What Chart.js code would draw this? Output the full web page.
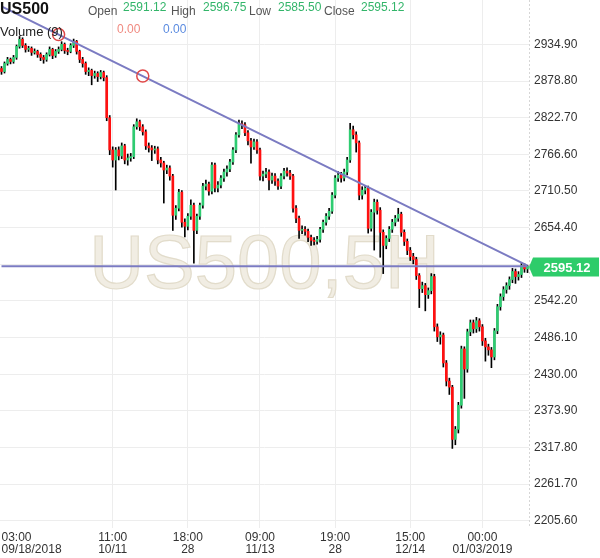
<!DOCTYPE html>
<html>
<head>
<meta charset="utf-8">
<title>US500, 5H</title>
<script src="https://cdn.jsdelivr.net/npm/chart.js@4.4.1/dist/chart.umd.min.js"></script>
<style>
    html, body { margin: 0; padding: 0; background: #fff; }
    #wrap { position: relative; width: 600px; height: 558px; font-family: "Liberation Sans", Arial, sans-serif; }
    #chart { position: absolute; left: 0; top: 0; }
    .hd { position: absolute; white-space: nowrap; font-size: 12px; line-height: 12px; }
    .lbl { color: #555; top: 5px; }
    .val { color: #33b56a; top: 1px; }
</style>
</head>
<body>
<div id="wrap">
    <canvas id="chart" width="600" height="558"></canvas>
    <div class="hd" style="left:0;top:1px;font-size:16px;line-height:16px;font-weight:bold;color:#111;">US500</div>
    <div class="hd lbl" style="left:88px;">Open</div>
    <div class="hd val" style="left:123px;">2591.12</div>
    <div class="hd lbl" style="left:171px;">High</div>
    <div class="hd val" style="left:203px;">2596.75</div>
    <div class="hd lbl" style="left:249px;">Low</div>
    <div class="hd val" style="left:278px;">2585.50</div>
    <div class="hd lbl" style="left:324px;">Close</div>
    <div class="hd val" style="left:361px;">2595.12</div>
    <div class="hd" style="left:0;top:25px;font-size:13px;line-height:13px;color:#222;">Volume (9)</div>
    <div class="hd" style="left:117px;top:23px;color:#f08a80;">0.00</div>
    <div class="hd" style="left:163px;top:23px;color:#5b8be0;">0.00</div>
</div>
<script>
// 5H candles, US500
const opens = [
    2898.0, 2893.3, 2905.6, 2911.8, 2908.7, 2914.9, 2931.8, 2942.6, 2933.3, 2927.2, 2928.7, 2922.6, 2924.1, 2919.5, 2914.9, 2911.8,
    2919.5, 2927.2, 2917.9, 2924.1, 2927.2, 2934.9, 2925.6, 2924.1, 2933.3, 2939.5, 2924.1, 2911.8, 2905.6, 2893.3, 2895.0, 2887.2,
    2890.3, 2885.6, 2891.8, 2884.1, 2822.6, 2773.3, 2757.9, 2773.3, 2764.1, 2779.5, 2757.9, 2761.0, 2763.0, 2808.7, 2816.4, 2808.7,
    2801.0, 2779.5, 2776.4, 2773.3, 2774.9, 2757.9, 2753.3, 2742.6, 2745.6, 2733.3, 2673.3, 2684.1, 2708.7, 2662.6, 2656.4, 2671.8,
    2688.7, 2650.2, 2671.8, 2688.7, 2717.9, 2721.0, 2710.2, 2750.2, 2714.9, 2719.5, 2730.2, 2739.5, 2744.1, 2754.9, 2773.3, 2796.4,
    2813.3, 2811.8, 2799.5, 2787.2, 2777.9, 2785.6, 2773.3, 2733.3, 2736.4, 2739.5, 2727.2, 2733.3, 2725.6, 2717.9, 2733.3, 2741.0,
    2737.9, 2733.3, 2684.1, 2668.7, 2650.2, 2651.8, 2648.7, 2639.5, 2634.9, 2633.3, 2636.4, 2651.8, 2662.6, 2671.8, 2679.5, 2704.1,
    2730.2, 2734.9, 2730.2, 2739.5, 2757.9, 2804.1, 2796.4, 2784.1, 2704.1, 2711.8, 2714.9, 2653.3, 2677.9, 2693.3, 2681.0, 2647.2,
    2627.2, 2637.9, 2651.8, 2662.6, 2668.7, 2674.9, 2647.2, 2633.3, 2619.5, 2610.2, 2605.6, 2581.0, 2561.0, 2565.6, 2551.8, 2557.9,
    2579.5, 2502.5, 2487.2, 2490.0, 2447.2, 2419.5, 2410.2, 2330.2, 2345.6, 2382.5, 2468.7, 2437.9, 2494.9, 2508.7, 2499.5, 2511.8,
    2502.5, 2481.0, 2471.8, 2467.2, 2456.4, 2496.4, 2533.3, 2548.7, 2559.5, 2565.6, 2574.9, 2587.2, 2579.5, 2582.6, 2596.4, 2591.12
];
const highs = [
    2901, 2908, 2915, 2914, 2918, 2934, 2947, 2945, 2936, 2932, 2931, 2928, 2926, 2922, 2918, 2922,
    2931, 2929, 2927, 2931, 2939, 2937, 2929, 2936, 2943, 2941, 2926, 2915, 2908, 2899, 2897, 2894,
    2893, 2895, 2894, 2887, 2826, 2778, 2777, 2778, 2784, 2782, 2767, 2768, 2812, 2821, 2819, 2812,
    2804, 2784, 2780, 2779, 2778, 2762, 2756, 2750, 2749, 2736, 2688, 2713, 2711, 2668, 2676, 2697,
    2692, 2675, 2692, 2722, 2727, 2724, 2754, 2753, 2725, 2734, 2744, 2749, 2759, 2777, 2800, 2819,
    2818, 2815, 2803, 2791, 2790, 2789, 2776, 2741, 2745, 2743, 2738, 2737, 2729, 2737, 2745, 2746,
    2742, 2736, 2688, 2672, 2657, 2656, 2652, 2643, 2639, 2641, 2655, 2666, 2676, 2684, 2708, 2734,
    2740, 2739, 2744, 2762, 2814, 2810, 2801, 2787, 2717, 2719, 2718, 2682, 2698, 2697, 2685, 2651,
    2642, 2656, 2667, 2673, 2684, 2678, 2651, 2637, 2624, 2615, 2609, 2584, 2571, 2569, 2562, 2584,
    2583, 2507, 2495, 2493, 2451, 2424, 2413, 2350, 2387, 2473, 2472, 2499, 2513, 2513, 2517, 2515,
    2506, 2485, 2476, 2471, 2500, 2537, 2553, 2564, 2570, 2579, 2592, 2591, 2587, 2601, 2599, 2596.75
];
const lows = [
    2889, 2891, 2903, 2905, 2906, 2912, 2929, 2930, 2923, 2924, 2918, 2920, 2915, 2910, 2906, 2909,
    2917, 2913, 2915, 2921, 2925, 2921, 2919, 2922, 2930, 2920, 2907, 2900, 2889, 2887, 2873, 2883,
    2878, 2882, 2879, 2818, 2766, 2747, 2712, 2758, 2760, 2752, 2750, 2756, 2760, 2805, 2803, 2796,
    2774, 2770, 2757, 2768, 2752, 2747, 2692, 2737, 2727, 2650, 2667, 2680, 2655, 2640, 2651, 2667,
    2600, 2645, 2667, 2684, 2712, 2704, 2706, 2709, 2709, 2715, 2725, 2733, 2740, 2751, 2769, 2793,
    2806, 2795, 2781, 2753, 2774, 2768, 2727, 2726, 2731, 2712, 2722, 2719, 2713, 2714, 2729, 2733,
    2728, 2678, 2662, 2638, 2645, 2643, 2633, 2627, 2628, 2629, 2632, 2647, 2658, 2667, 2676, 2700,
    2725, 2724, 2726, 2735, 2754, 2790, 2770, 2697, 2698, 2706, 2646, 2649, 2620, 2675, 2609, 2584,
    2622, 2633, 2647, 2657, 2664, 2641, 2627, 2613, 2604, 2599, 2575, 2532, 2555, 2527, 2546, 2553,
    2496, 2480, 2476, 2441, 2412, 2399, 2316.4, 2322, 2340, 2378, 2393, 2433, 2489, 2493, 2494, 2496,
    2474, 2450, 2459, 2440, 2452, 2492, 2528, 2543, 2554, 2560, 2570, 2569, 2574, 2578, 2586, 2585.5
];
const closes = [
    2893.3, 2905.6, 2911.8, 2908.7, 2914.9, 2931.8, 2942.6, 2933.3, 2927.2, 2928.7, 2922.6, 2924.1, 2919.5, 2914.9, 2911.8, 2919.5,
    2927.2, 2917.9, 2924.1, 2927.2, 2934.9, 2925.6, 2924.1, 2933.3, 2939.5, 2924.1, 2911.8, 2905.6, 2893.3, 2895.0, 2887.2, 2890.3,
    2885.6, 2891.8, 2884.1, 2822.6, 2773.3, 2757.9, 2773.3, 2764.1, 2779.5, 2757.9, 2761.0, 2763.0, 2808.7, 2816.4, 2808.7, 2801.0,
    2779.5, 2776.4, 2773.3, 2774.9, 2757.9, 2753.3, 2742.6, 2745.6, 2733.3, 2673.3, 2684.1, 2708.7, 2662.6, 2656.4, 2671.8, 2688.7,
    2650.2, 2671.8, 2688.7, 2717.9, 2721.0, 2710.2, 2750.2, 2714.9, 2719.5, 2730.2, 2739.5, 2744.1, 2754.9, 2773.3, 2796.4, 2813.3,
    2811.8, 2799.5, 2787.2, 2777.9, 2785.6, 2773.3, 2733.3, 2736.4, 2739.5, 2727.2, 2733.3, 2725.6, 2717.9, 2733.3, 2741.0, 2737.9,
    2733.3, 2684.1, 2668.7, 2650.2, 2651.8, 2648.7, 2639.5, 2634.9, 2633.3, 2636.4, 2651.8, 2662.6, 2671.8, 2679.5, 2704.1, 2730.2,
    2734.9, 2730.2, 2739.5, 2757.9, 2804.1, 2796.4, 2784.1, 2704.1, 2711.8, 2714.9, 2653.3, 2677.9, 2693.3, 2681.0, 2647.2, 2627.2,
    2637.9, 2651.8, 2662.6, 2668.7, 2674.9, 2647.2, 2633.3, 2619.5, 2610.2, 2605.6, 2581.0, 2561.0, 2565.6, 2551.8, 2557.9, 2579.5,
    2502.5, 2487.2, 2490.0, 2447.2, 2419.5, 2410.2, 2330.2, 2345.6, 2382.5, 2468.7, 2437.9, 2494.9, 2508.7, 2499.5, 2511.8, 2502.5,
    2481.0, 2471.8, 2467.2, 2456.4, 2496.4, 2533.3, 2548.7, 2559.5, 2565.6, 2574.9, 2587.2, 2579.5, 2582.6, 2596.4, 2591.12, 2595.12
];

// 趋势线 (candle index -> price), circles on the two anchors
const trendIdx = [0, 19, 47, 175];
const trendVal = [2993.0, 2949.9, 2886.4, 2596.1];
const trendAnchors = [19, 47];
const lastPrice = 2595.12;

// axis
const yTicks = [2205.6, 2261.7, 2317.8, 2373.9, 2430.0, 2486.1, 2542.2, 2598.3, 2654.4, 2710.5, 2766.6, 2822.7, 2878.8, 2934.9];
const yMin = 2194.6;
const yMax = 3002.8;
const xTickIdx = [0, 37, 62, 86, 111, 136, 160, 175];
const xTickText = [
    ['03:00', '09/18/2018'], ['11:00', '10/11'], ['18:00', '28'], ['09:00', '11/13'],
    ['19:00', '28'], ['15:00', '12/14'], ['00:00', '01/03/2019'], ''
];
const watermarkText = 'US500,5H';

const GREEN = '#2ecc71';
const RED = '#ff1010';
const LINE = '#7b7bc2';
const GRID = '#ededed';
const FONT = '"Liberation Sans", Arial, sans-serif';

const trendLine = opens.map(() => null);
trendIdx.forEach((k, j) => { trendLine[k] = trendVal[j]; });
const lastLine = opens.map(() => null);
lastLine[0] = lastPrice;
lastLine[opens.length - 1] = lastPrice;

// 水印
const watermark = {
    id: 'watermark',
    beforeDatasetsDraw(chart) {
        const { ctx, chartArea } = chart;
        ctx.save();
        ctx.font = '76px ' + FONT;
        ctx.textAlign = 'center';
        ctx.textBaseline = 'alphabetic';
        ctx.fillStyle = '#f1ede3';
        ctx.strokeStyle = '#e2dccb';
        ctx.lineWidth = 1.2;
        const x = chartArea.left + chartArea.width * 0.5;
        ctx.fillText(watermarkText, x, 288);
        ctx.strokeText(watermarkText, x, 288);
        ctx.restore();
    }
};

// 右侧虚线边框 + 当前价格标签
const priceTag = {
    id: 'priceTag',
    afterDraw(chart) {
        const { ctx, chartArea, scales: { y } } = chart;
        const x0 = chartArea.right;
        ctx.save();
        ctx.strokeStyle = '#d6d6d6';
        ctx.lineWidth = 1;
        ctx.setLineDash([2, 2]);
        ctx.beginPath();
        ctx.moveTo(x0 + 0.5, chartArea.top);
        ctx.lineTo(x0 + 0.5, chartArea.bottom);
        ctx.stroke();
        ctx.setLineDash([]);

        const py = Math.round(y.getPixelForValue(lastPrice)) + 1;
        const h = 19;
        ctx.fillStyle = '#2ecc6a';
        ctx.beginPath();
        ctx.moveTo(x0, py);
        ctx.lineTo(x0 + 4, py - h / 2);
        ctx.lineTo(599, py - h / 2);
        ctx.lineTo(599, py + h / 2);
        ctx.lineTo(x0 + 4, py + h / 2);
        ctx.closePath();
        ctx.fill();
        ctx.fillStyle = '#fff';
        ctx.font = 'bold 13px ' + FONT;
        ctx.textAlign = 'center';
        ctx.textBaseline = 'middle';
        ctx.fillText(lastPrice.toFixed(2), x0 + 38, py + 1);
        ctx.restore();
    }
};

new Chart(document.getElementById('chart'), {
    type: 'bar',
    data: {
        labels: opens.map((_, i) => i),
        datasets: [
            {
                type: 'line',
                label: 'trend',
                data: trendLine,
                spanGaps: true,
                borderColor: LINE,
                borderWidth: 2,
                pointRadius: ctx => trendAnchors.includes(ctx.dataIndex) ? 6 : 0,
                pointBorderColor: '#e04848',
                pointBackgroundColor: 'rgba(255,255,255,0)',
                pointBorderWidth: 1.5,
                order: 0
            },
            {
                type: 'line',
                label: 'last',
                data: lastLine,
                spanGaps: true,
                borderColor: LINE,
                borderWidth: 2,
                pointRadius: 0,
                order: 0
            },
            {
                label: 'body',
                data: opens.map((o, i) => [o, closes[i]]),
                backgroundColor: ctx => closes[ctx.dataIndex] >= opens[ctx.dataIndex] ? GREEN : RED,
                borderWidth: 0,
                barThickness: 2,
                grouped: false,
                order: 1
            },
            {
                label: 'wick',
                data: lows.map((l, i) => [l, highs[i]]),
                backgroundColor: '#000',
                borderWidth: 0,
                barThickness: 1,
                grouped: false,
                order: 2
            }
        ]
    },
    options: {
        responsive: false,
        animation: false,
        layout: { padding: 0 },
        plugins: {
            legend: { display: false },
            tooltip: { enabled: false }
        },
        scales: {
            x: {
                offset: true,
                grid: {
                    offset: false,
                    drawTicks: false,
                    color: ctx => (ctx.tick && (ctx.tick.value === 0 || ctx.tick.value === 175)) ? 'rgba(0,0,0,0)' : GRID
                },
                border: { display: false },
                ticks: {
                    autoSkip: false,
                    maxRotation: 0,
                    align: 'inner',
                    padding: 4,
                    color: '#333',
                    font: { family: FONT, size: 12, lineHeight: 1 },
                    callback: v => {
                        const k = xTickIdx.indexOf(v);
                        return k >= 0 ? xTickText[k] : '';
                    }
                },
                afterBuildTicks: scale => { scale.ticks = xTickIdx.map(v => ({ value: v })); },
                afterFit: scale => { scale.height = 30; scale.paddingLeft = 0; scale.paddingRight = 0; }
            },
            y: {
                position: 'right',
                min: yMin,
                max: yMax,
                grid: { color: GRID, drawTicks: false },
                border: { display: false },
                ticks: {
                    padding: 5,
                    color: '#333',
                    font: { family: FONT, size: 12 },
                    callback: v => Number(v).toFixed(2)
                },
                afterBuildTicks: scale => { scale.ticks = yTicks.map(v => ({ value: v })); },
                afterFit: scale => { scale.width = 71; scale.paddingTop = 0; scale.paddingBottom = 0; }
            }
        }
    },
    plugins: [watermark, priceTag]
});
</script>
</body>
</html>
